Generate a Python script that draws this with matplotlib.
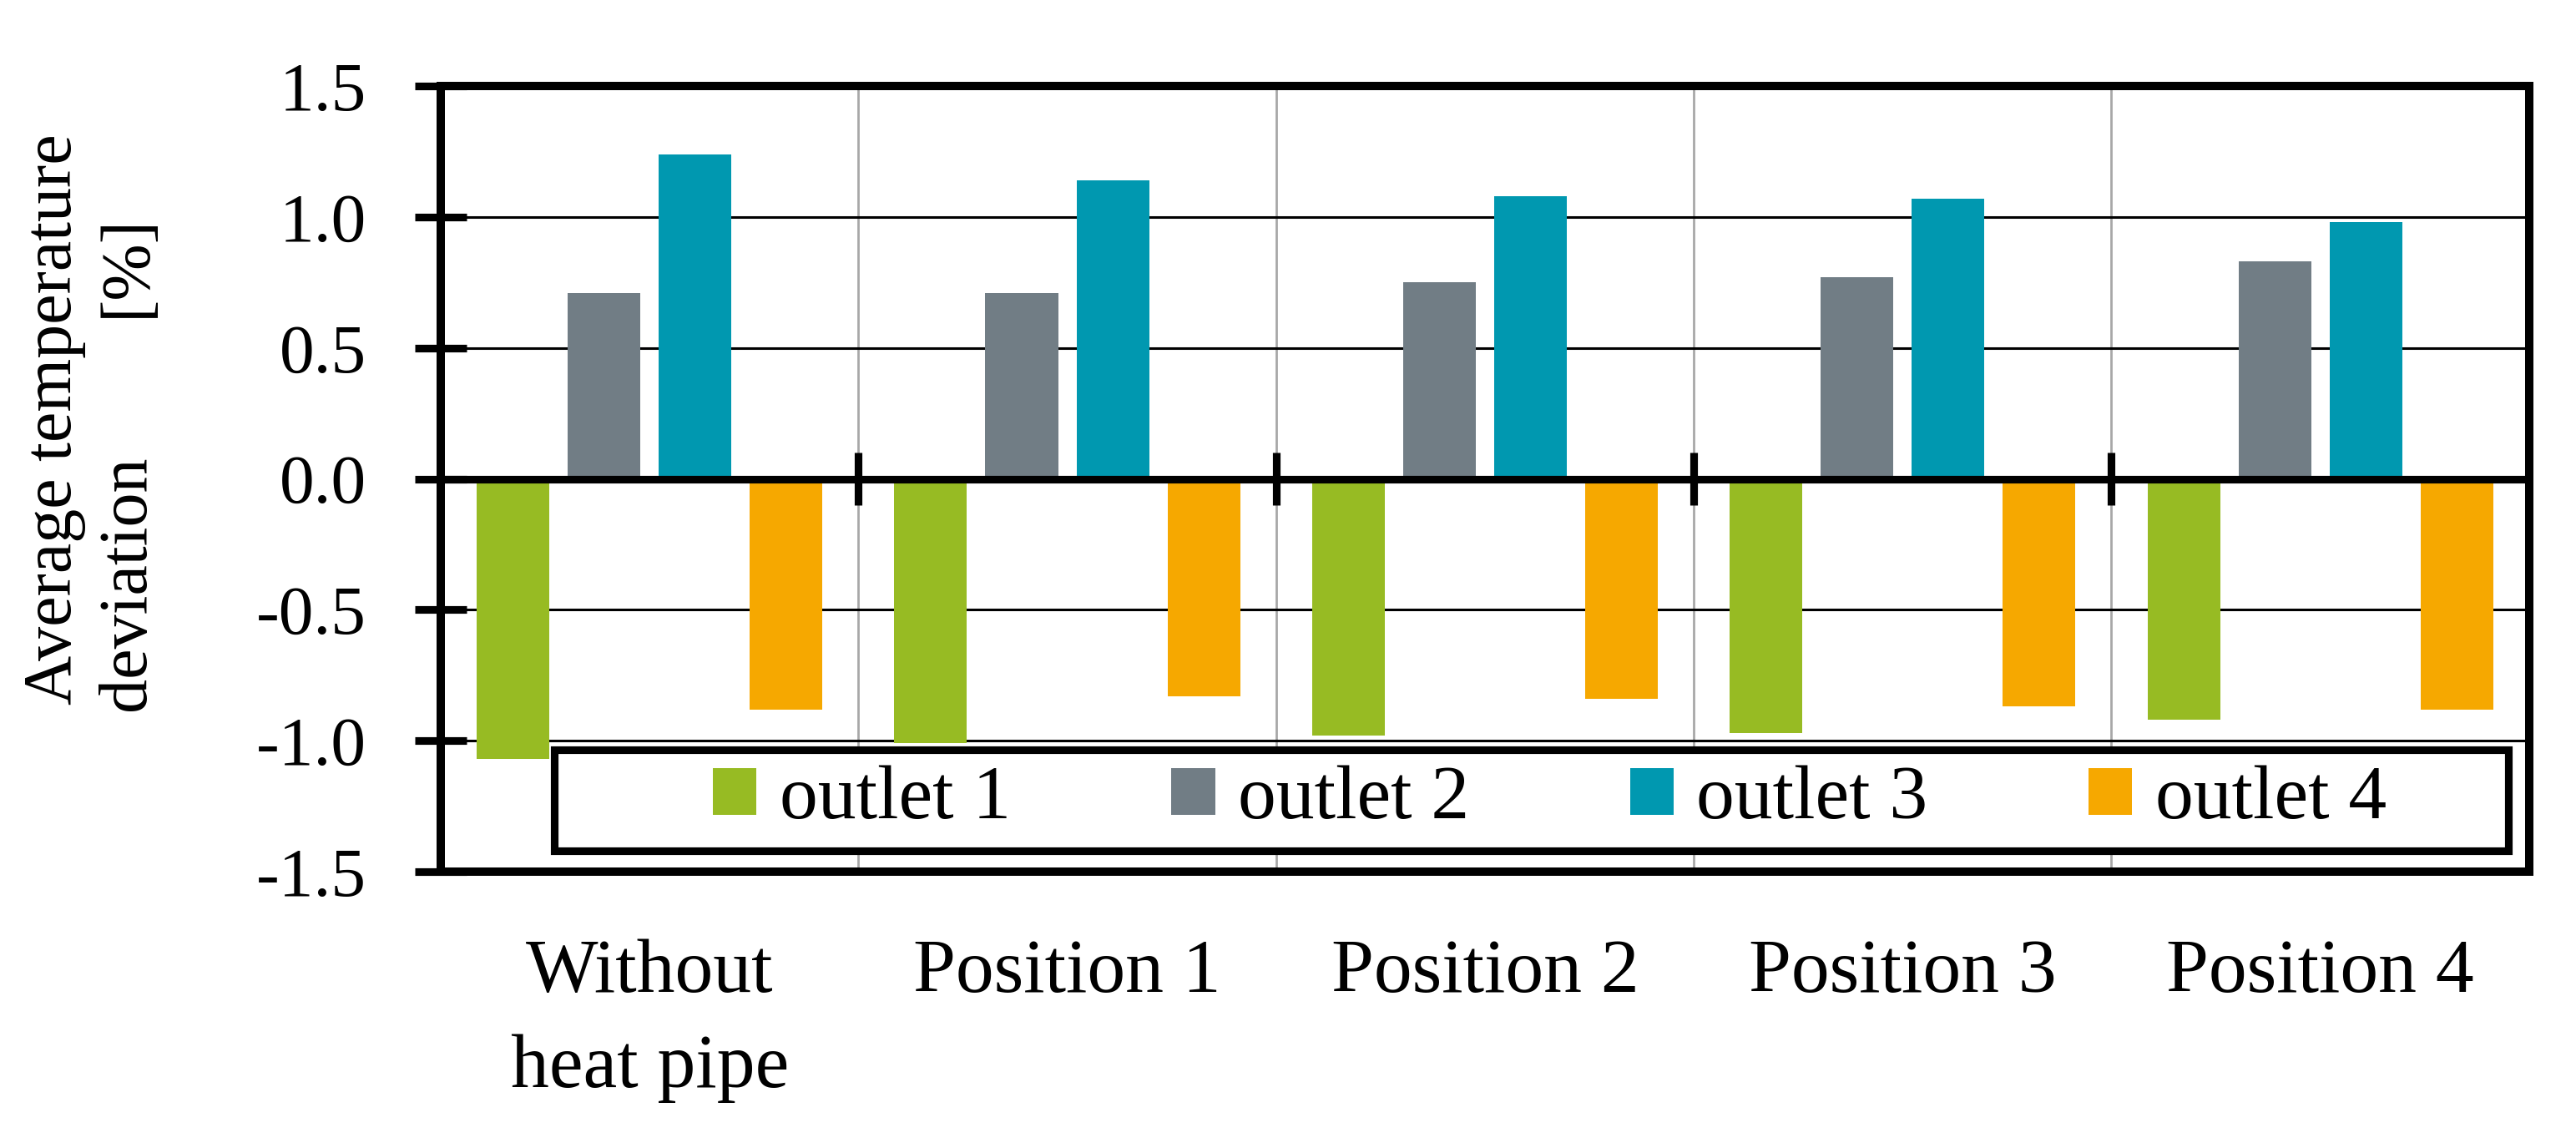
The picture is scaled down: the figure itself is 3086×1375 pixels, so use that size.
import numpy as np
import matplotlib
matplotlib.use('Agg')
import matplotlib.pyplot as plt
from matplotlib.patches import Rectangle

plt.rcParams['font.family'] = ['Liberation Serif', 'DejaVu Serif']

# data
categories = ['Without\nheat pipe', 'Position 1', 'Position 2', 'Position 3', 'Position 4']
series_names = ['outlet 1', 'outlet 2', 'outlet 3', 'outlet 4']
outlet1 = [-1.07, -1.01, -0.98, -0.97, -0.92]
outlet2 = [0.71, 0.71, 0.75, 0.77, 0.83]
outlet3 = [1.24, 1.14, 1.08, 1.07, 0.98]
outlet4 = [-0.88, -0.83, -0.84, -0.87, -0.88]
y_ticks = [-1.5, -1.0, -0.5, 0.0, 0.5, 1.0, 1.5]

colors = ['#97BB23', '#717D85', '#0098B0', '#F6A800']
series = [outlet1, outlet2, outlet3, outlet4]

fig = plt.figure(figsize=(15.43, 6.875), dpi=200)
ax = fig.add_axes([0.1711, 0.2407, 0.8107, 0.6844])

x = np.arange(len(categories))
step = 0.218
width = 0.174
offsets = (np.arange(len(series)) - (len(series) - 1) / 2) * step

for vals, off, col, name in zip(series, offsets, colors, series_names):
    ax.bar(x + off, vals, width=width, color=col, label=name, zorder=2)

ax.set_xlim(-0.5, len(categories) - 0.5)
ax.set_ylim(-1.5, 1.5)
ax.set_yticks(y_ticks)
ax.set_yticklabels([f'{v:.1f}' for v in y_ticks])
ax.set_xticks(x)
ax.set_xticklabels(categories, linespacing=1.5)

# grid: black horizontal, grey vertical at category boundaries
ax.set_axisbelow(True)
ax.yaxis.grid(True, color='black', linewidth=1.1)
bounds = np.arange(len(categories) - 1) + 0.5
for b in bounds:
    ax.axvline(b, color='#A8A8A8', linewidth=1.0, zorder=0.5)

# zero line with small crossing ticks
ax.axhline(0, color='black', linewidth=3.3, zorder=3)
ax.vlines(bounds, -0.1, 0.1, color='black', linewidth=3.3, zorder=3)

for s in ax.spines.values():
    s.set_linewidth(3.6)
    s.set_zorder(4)

ax.tick_params(axis='y', direction='inout', length=22, width=3.3,
               pad=21, labelsize=30)
ax.tick_params(axis='x', length=0, pad=29, labelsize=33)

# legend with thick box
ax.add_patch(Rectangle((0.0544, 0.0266), 0.9356, 0.129, transform=ax.transAxes,
                       facecolor='white', edgecolor='black', linewidth=3.3,
                       zorder=5))
leg = ax.legend(loc='center', bbox_to_anchor=(0.531, 0.0914), ncol=4,
                frameon=False, fontsize=33, handlelength=0.57,
                handleheight=0.57, handletextpad=0.3, columnspacing=2.1)
leg.set_zorder(6)

# y label in two lines
fig.text(0.021, 0.635, 'Average temperature', rotation=90, ha='center',
         va='center', fontsize=29.5)
fig.text(0.0497, 0.492, 'deviation', rotation=90, ha='center',
         va='center', fontsize=29.5)
fig.text(0.0497, 0.768, '[%]', rotation=90, ha='center',
         va='center', fontsize=29.5)

plt.savefig('out.png', dpi=200)
